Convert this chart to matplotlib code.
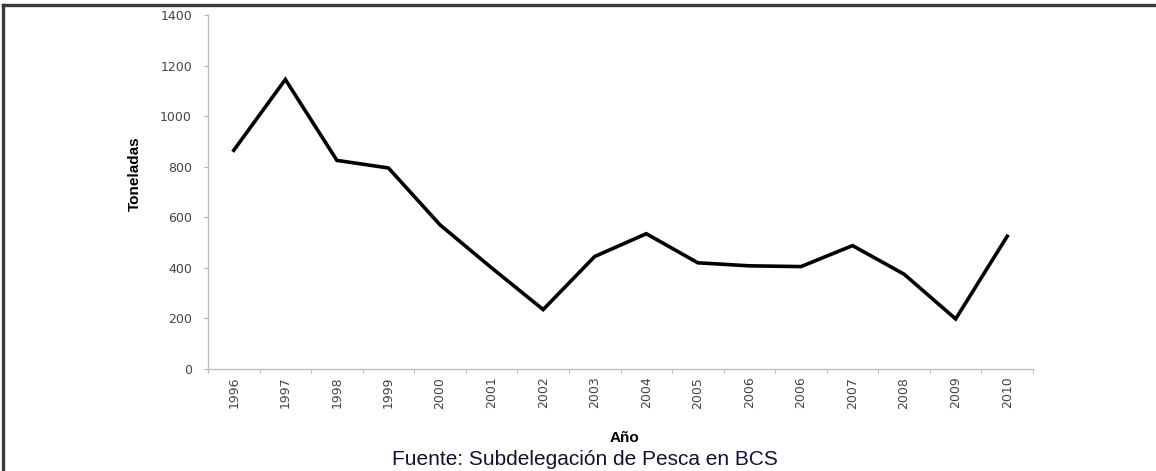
import numpy as np
import matplotlib.pyplot as plt
from matplotlib.lines import Line2D

plt.rcParams['font.family'] = ['Liberation Sans', 'DejaVu Sans']

# Data
years = ['1996', '1997', '1998', '1999', '2000', '2001', '2002', '2003',
         '2004', '2005', '2006', '2006', '2007', '2008', '2009', '2010']
toneladas = [865, 1145, 825, 795, 570, 400, 235, 445,
             535, 420, 408, 405, 488, 375, 198, 525]

fig = plt.figure(figsize=(11.56, 4.71), dpi=100)
ax = fig.add_axes([208 / 1156, 1 - 369 / 471, (1033 - 208) / 1156, (369 - 15) / 471])

x = np.arange(len(years))
ax.plot(x, toneladas, color='black', linewidth=2.6, solid_joinstyle='miter')

ax.set_xlim(-0.5, len(years) - 0.5)
ax.set_ylim(0, 1400)
ax.set_yticks(range(0, 1401, 200))
ax.set_yticklabels([str(v) for v in range(0, 1401, 200)], family='DejaVu Sans',
                   fontsize=9, color='#444444')
ax.set_xticks(x)
ax.set_xticklabels(years, rotation=90, family='DejaVu Sans', fontsize=9, color='#444444')
ax.set_xticks(np.arange(-0.5, len(years)), minor=True)
ax.tick_params(axis='x', which='major', length=0, pad=5.5)
ax.tick_params(axis='x', which='minor', length=3, color='#b0b0b0', direction='out')
ax.tick_params(axis='y', length=3, color='#b0b0b0', pad=8.5)

for s in ['top', 'right']:
    ax.spines[s].set_visible(False)
for s in ['left', 'bottom']:
    ax.spines[s].set_color('#c0c0c0')
    ax.spines[s].set_linewidth(1)

ax.set_ylabel('Toneladas', fontsize=11, fontweight='bold')
ax.yaxis.set_label_coords(-(208 - 142) / 825, (369 - 174) / 354)
ax.set_xlabel('Año', fontsize=11, fontweight='bold')
ax.xaxis.set_label_coords((624 - 208) / 825, -(431 - 369) / 354)

fig.text(585 / 1156, 6 / 471, 'Fuente: Subdelegación de Pesca en BCS',
         ha='center', va='baseline', fontsize=15, color='#111133')

# outer frame (top and left edges visible)
fig.add_artist(Line2D([3 / 1156, 1], [1 - 4.5 / 471, 1 - 4.5 / 471],
                      transform=fig.transFigure, color='#3a3a3a', linewidth=2.4))
fig.add_artist(Line2D([3 / 1156, 3 / 1156], [0, 1 - 4.5 / 471],
                      transform=fig.transFigure, color='#3a3a3a', linewidth=2.4))

fig.savefig('out.png', dpi=100)
